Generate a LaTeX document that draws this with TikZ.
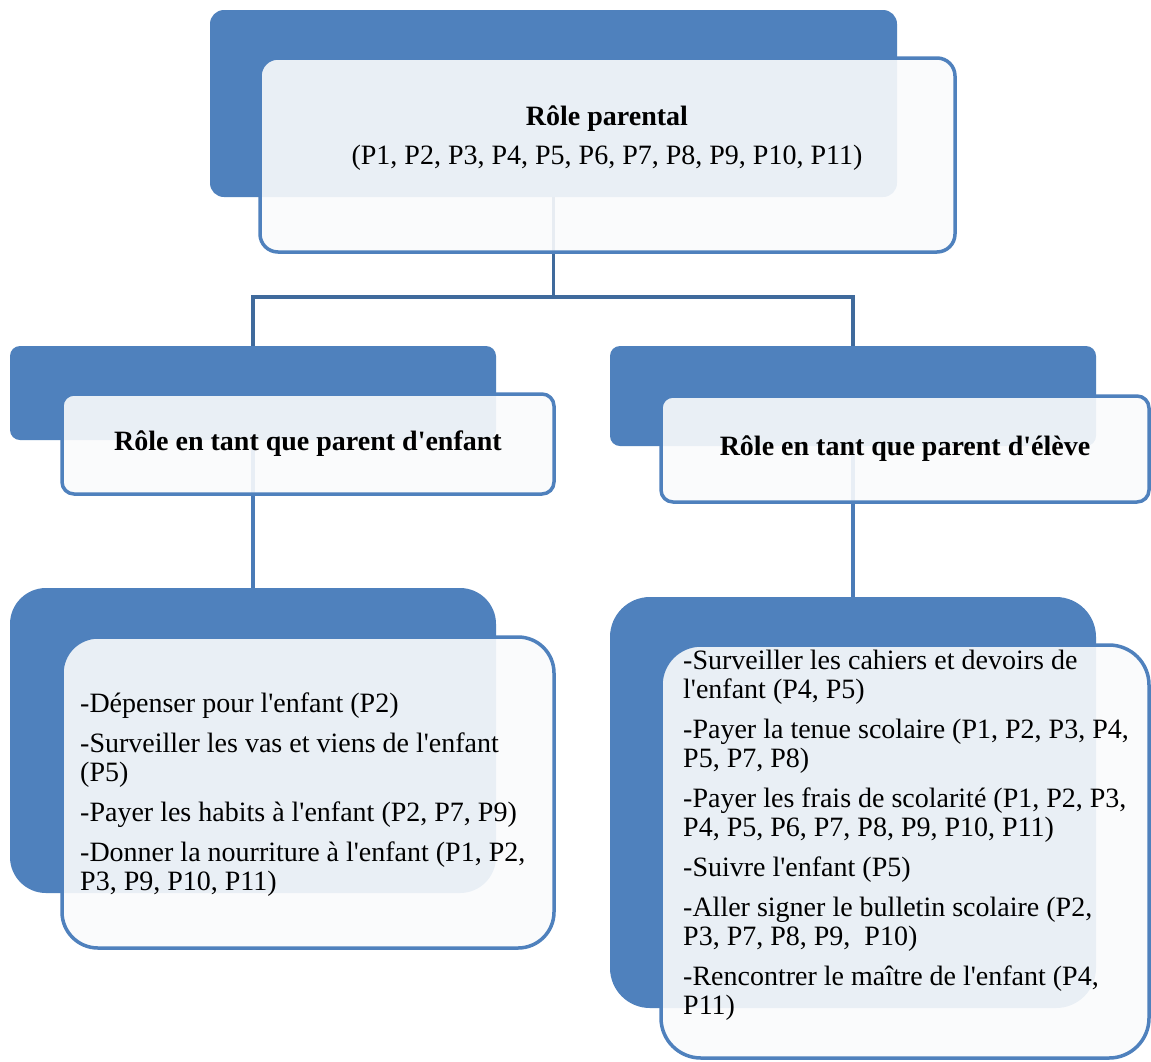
\documentclass[tikz,border=0pt]{standalone}
\usepackage{fontspec}
\setmainfont{Liberation Serif}[Ligatures=TeXOff]
\usetikzlibrary{backgrounds}
\definecolor{bblue}{HTML}{4F81BD}
\definecolor{topline}{HTML}{3F6A9C}
\definecolor{lowline}{HTML}{4A7BB7}
\definecolor{frontfill}{HTML}{FAFBFC}
\begin{document}
\begin{tikzpicture}[x=1pt,y=-1pt,
  backbox/.style={rectangle, fill=bblue, draw=none, rounded corners=#1, inner sep=0},
  frontbox/.style={rectangle, fill=frontfill, fill opacity=0.9, text opacity=1,
    draw=bblue, line width=3.5pt, rounded corners=#1, inner sep=0},
  conntop/.style={draw=topline, line width=3.8pt},
  connlow/.style={draw=lowline, line width=3.8pt},
  bodytext/.style={inner sep=0, align=left, font=\fontsize{28}{29}\selectfont},
  headtext/.style={inner sep=0, font=\fontsize{28}{34}\selectfont\bfseries}
]
\useasboundingbox (0,0) rectangle (1151,1061);
\clip (0,0) rectangle (1151,1061);

% level 1
\node[backbox=14, minimum width=687, minimum height=187] (b1) at (553.5,103.5) {};
\node[frontbox=18, minimum width=695, minimum height=194] (f1) at (607.5,155) {};
\node[inner sep=0, anchor=north, align=center, font=\fontsize{28}{39}\selectfont] (t1) at (607,106)
  {\textbf{Rôle parental}\\(P1, P2, P3, P4, P5, P6, P7, P8, P9, P10, P11)};

% level 2
\node[backbox=10, minimum width=486, minimum height=94] (b2l) at (253,393) {};
\node[frontbox=12, minimum width=492, minimum height=100, headtext] (f2l) at (308,444)
  {Rôle en tant que parent d'enfant};
\node[backbox=10, minimum width=486, minimum height=100] (b2r) at (853,396) {};
\node[frontbox=12, minimum width=488, minimum height=106, headtext] (f2r) at (905,449)
  {Rôle en tant que parent d'élève};

% level 3
\node[backbox=36, minimum width=486, minimum height=305] (b3l) at (253,740.5) {};
\node[frontbox=36, minimum width=492, minimum height=311] (f3l) at (308,792.5) {};
\node[bodytext, anchor=north west] (t3l) at (80,692.6)
  {-Dépenser pour l'enfant (P2)\\[11pt]
   -Surveiller les vas et viens de l'enfant\\
   (P5)\\[11pt]
   -Payer les habits à l'enfant (P2, P7, P9)\\[11pt]
   -Donner la nourriture à l'enfant (P1, P2,\\
   P3, P9, P10, P11)};

\node[backbox=40, minimum width=486, minimum height=411] (b3r) at (853,802.5) {};
\node[frontbox=40, minimum width=488, minimum height=413] (f3r) at (905,851.5) {};
\node[bodytext, anchor=north west] (t3r) at (683,650)
  {-Surveiller les cahiers et devoirs de\\
   l'enfant (P4, P5)\\[11pt]
   -Payer la tenue scolaire (P1, P2, P3, P4,\\
   P5, P7, P8)\\[11pt]
   -Payer les frais de scolarité (P1, P2, P3,\\
   P4, P5, P6, P7, P8, P9, P10, P11)\\[11pt]
   -Suivre l'enfant (P5)\\[11pt]
   -Aller signer le bulletin scolaire (P2,\\
   P3, P7, P8, P9,\ \ P10)\\[11pt]
   -Rencontrer le maître de l'enfant (P4,\\
   P11)};

% connectors behind the boxes
\begin{scope}[on background layer]
  \fill[white] (0,0) rectangle (1151,1061);
  \coordinate (j) at (553.5,297);
  \draw[conntop] (b1.center) -- (j);
  \draw[conntop] (b2l.north) |- (j) -| (b2r.north);
  \draw[connlow] (b2l.center) -- (b3l.north);
  \draw[connlow] (b2r.center) -- (b3r.north);
\end{scope}
\end{tikzpicture}
\end{document}
